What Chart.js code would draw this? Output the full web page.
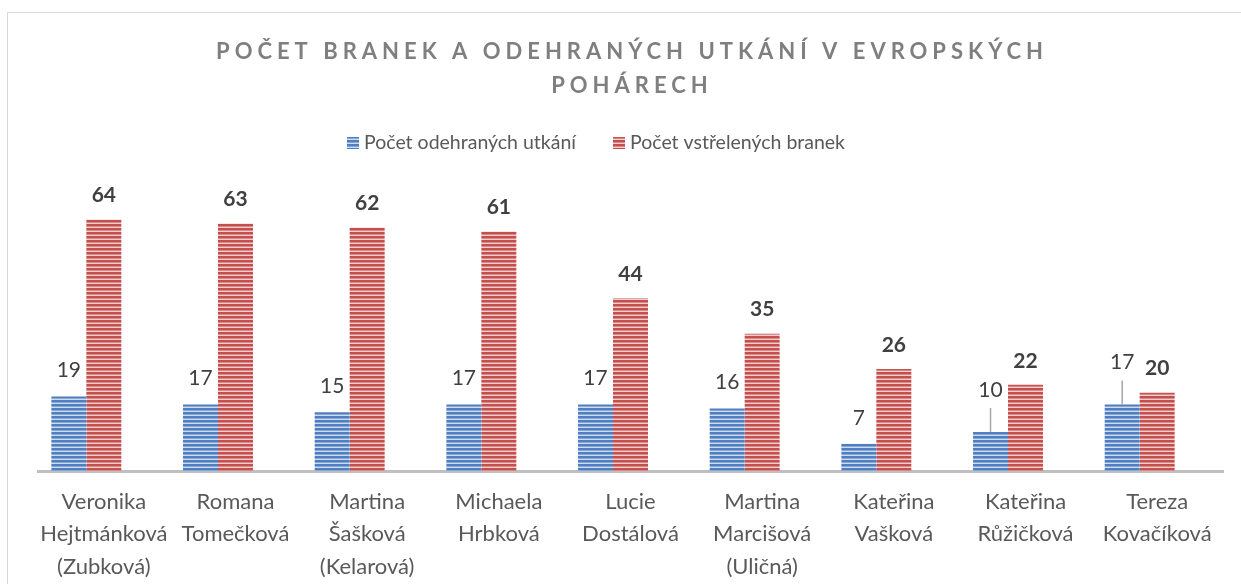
<!DOCTYPE html>
<html>
<head>
<meta charset="utf-8">
<script src="https://cdn.jsdelivr.net/npm/chart.js@4"></script>
<style>
    html, body { margin: 0; padding: 0; background: #fff; }
    #wrap { width: 1241px; height: 584px; position: relative; }
</style>
</head>
<body>
<div id="wrap"><canvas id="chart"></canvas></div>
<script>
// Chart data
const players = [
    ['Veronika', 'Hejtmánková', '(Zubková)'],
    ['Romana', 'Tomečková'],
    ['Martina', 'Šašková', '(Kelarová)'],
    ['Michaela', 'Hrbková'],
    ['Lucie', 'Dostálová'],
    ['Martina', 'Marcišová', '(Uličná)'],
    ['Kateřina', 'Vašková'],
    ['Kateřina', 'Růžičková'],
    ['Tereza', 'Kovačíková']
];
const matches = [19, 17, 15, 17, 17, 16, 7, 10, 17];
const goals = [64, 63, 62, 61, 44, 35, 26, 22, 20];
const seriesNames = ['Počet odehraných utkání', 'Počet vstřelených branek'];
const titleLines = ['POČET BRANEK A ODEHRANÝCH UTKÁNÍ V EVROPSKÝCH', 'POHÁRECH'];

const FONT = 'Lato, "Open Sans", sans-serif';

// Striped fill like the original bars
function stripePattern(dark, mid, light) {
    const c = document.createElement('canvas');
    c.width = 4;
    c.height = 4;
    const g = c.getContext('2d');
    g.fillStyle = dark; g.fillRect(0, 0, 4, 2);
    g.fillStyle = mid; g.fillRect(0, 2, 4, 1);
    g.fillStyle = light; g.fillRect(0, 3, 4, 1);
    return g.createPattern(c, 'repeat');
}

const bluePattern = stripePattern('#4f7fc0', '#86a8d8', '#cfdcf0');
const redPattern = stripePattern('#c4504e', '#dc8886', '#f2cfce');

// Title, frame, legend and value labels
const decorPlugin = {
    id: 'decor',
    beforeDraw(chart) {
        const ctx = chart.ctx;
        ctx.save();
        ctx.strokeStyle = '#d9d9d9';
        ctx.lineWidth = 1;
        ctx.strokeRect(7.5, 12.5, 1240, 580);

        // title
        ctx.fillStyle = '#7f7f7f';
        ctx.font = 'bold 22px ' + FONT;
        ctx.textAlign = 'center';
        ctx.textBaseline = 'middle';
        ctx.letterSpacing = '5px';
        ctx.fillText(titleLines[0], 632, 52);
        ctx.fillText(titleLines[1], 632, 86);
        ctx.letterSpacing = '0px';

        // legend
        ctx.font = '19.5px ' + FONT;
        ctx.textAlign = 'left';
        const legendX = [347, 613];
        const fills = [bluePattern, redPattern];
        seriesNames.forEach((name, i) => {
            ctx.fillStyle = fills[i];
            ctx.fillRect(legendX[i], 137, 12, 12);
            ctx.fillStyle = '#595959';
            ctx.fillText(name, legendX[i] + 17, 143);
        });
        ctx.restore();
    },
    afterDatasetsDraw(chart) {
        const ctx = chart.ctx;
        ctx.save();
        ctx.textAlign = 'center';
        ctx.textBaseline = 'middle';
        ctx.fillStyle = '#404040';

        const goalBars = chart.getDatasetMeta(1).data;
        chart.getDatasetMeta(0).data.forEach((bar, i) => {
            ctx.font = '21px ' + FONT;
            let y = bar.y - 26;
            // labels crowded by the neighbouring red bar sit higher with a leader line
            if (goals[i] - matches[i] < 15) {
                y -= 16;
                ctx.strokeStyle = '#a6a6a6';
                ctx.lineWidth = 1.5;
                ctx.beginPath();
                ctx.moveTo(bar.x, y + 18);
                ctx.lineTo(bar.x, bar.y);
                ctx.stroke();
            }
            ctx.fillText(String(matches[i]), bar.x, y);
        });

        goalBars.forEach((bar, i) => {
            ctx.font = 'bold 21px ' + FONT;
            ctx.fillText(String(goals[i]), bar.x, bar.y - 24);
        });
        ctx.restore();
    }
};

function initChart() {
    const ctx = document.getElementById('chart').getContext('2d');
    new Chart(ctx, {
        type: 'bar',
        data: {
            labels: players,
            datasets: [
                {
                    label: seriesNames[0],
                    data: matches,
                    backgroundColor: bluePattern,
                    borderWidth: 0
                },
                {
                    label: seriesNames[1],
                    data: goals,
                    backgroundColor: redPattern,
                    borderWidth: 0
                },
                {
                    // empty third slot, as in the source chart
                    label: '',
                    data: [],
                    backgroundColor: 'rgba(0,0,0,0)',
                    borderWidth: 0
                }
            ]
        },
        options: {
            responsive: true,
            maintainAspectRatio: false,
            animation: false,
            categoryPercentage: 0.797,
            barPercentage: 1,
            layout: {
                padding: { top: 196, left: 38, right: 18, bottom: -13 }
            },
            plugins: {
                legend: { display: false },
                tooltip: { enabled: false }
            },
            scales: {
                y: {
                    display: false,
                    min: 0,
                    max: 70
                },
                x: {
                    grid: { display: false, drawTicks: false },
                    border: { color: '#bfbfbf', width: 3 },
                    ticks: {
                        color: '#595959',
                        font: { family: FONT, size: 22, lineHeight: 1.48 },
                        padding: 14,
                        maxRotation: 0,
                        autoSkip: false
                    }
                }
            }
        },
        plugins: [decorPlugin]
    });
}

document.addEventListener('DOMContentLoaded', initChart);
</script>
</body>
</html>
